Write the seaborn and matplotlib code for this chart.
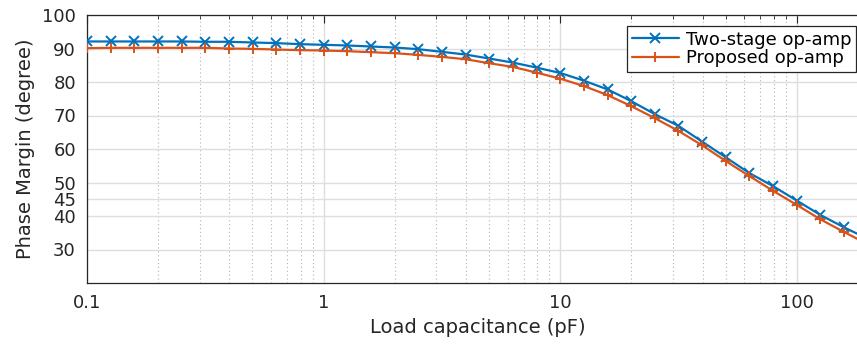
import numpy as np
import pandas as pd
import matplotlib
matplotlib.use("Agg")
import matplotlib.pyplot as plt
import seaborn as sns
from matplotlib.ticker import LogLocator, NullFormatter, FixedLocator
from matplotlib.lines import Line2D

# Load capacitance points (pF), 10 per decade
cap = [0.1, 0.1259, 0.1585, 0.1995, 0.2512, 0.3162, 0.3981, 0.5012, 0.631, 0.7943,
       1.0, 1.259, 1.585, 1.995, 2.512, 3.162, 3.981, 5.012, 6.31, 7.943,
       10.0, 12.59, 15.85, 19.95, 25.12, 31.62, 39.81, 50.12, 63.1, 79.43,
       100.0, 125.9, 158.5, 199.5]

two_stage = [92.1, 92.1, 92.1, 92.1, 92.1, 92.0, 92.0, 91.8, 91.6, 91.3,
             91.1, 90.9, 90.6, 90.3, 89.8, 89.0, 88.2, 87.0, 85.8, 84.3,
             82.7, 80.4, 77.8, 74.3, 70.4, 66.9, 62.2, 57.5, 52.8, 48.9,
             44.6, 40.3, 36.6, 33.2]

proposed = [90.1, 90.2, 90.2, 90.2, 90.2, 90.2, 90.0, 89.9, 89.7, 89.5,
            89.4, 89.2, 88.9, 88.6, 88.1, 87.5, 86.8, 85.6, 84.5, 82.8,
            81.0, 78.8, 76.1, 72.8, 69.2, 65.4, 61.1, 56.4, 51.9, 47.5,
            43.3, 39.0, 35.2, 31.6]

series_names = ["Two-stage op-amp", "Proposed op-amp"]
y_ticks = [30, 40, 45, 50, 60, 70, 80, 90, 100]
x_ticks = [0.1, 1, 10, 100]
x_tick_labels = ["0.1", "1", "10", "100"]

sns.set_style("white")
plt.rcParams["font.family"] = ["DejaVu Sans"]
txt = "#262626"
colors = ["#0072BD", "#D95319"]
markers = ["x", "+"]

fig = plt.figure(figsize=(8.57, 3.47), dpi=100)
ax = fig.add_axes([87 / 857, 1 - 283 / 347, (868 - 87) / 857, (283 - 15) / 347])

for name, vals, col, mk in zip(series_names, [two_stage, proposed], colors, markers):
    d = pd.DataFrame({"C": cap, "PM": vals})
    sns.lineplot(data=d, x="C", y="PM", color=col, marker=mk,
                 markersize=6.5, markeredgewidth=1.4, markeredgecolor=col,
                 linewidth=1.6, ax=ax, legend=False, zorder=3)

ax.set_xscale("log")
ax.set_xlim(0.1, 200)
ax.set_ylim(20, 100)
ax.xaxis.set_major_locator(FixedLocator(x_ticks))
ax.set_xticklabels(x_tick_labels)
ax.xaxis.set_minor_locator(LogLocator(base=10, subs=np.arange(2, 10)))
ax.xaxis.set_minor_formatter(NullFormatter())
ax.set_yticks(y_ticks)
ax.set_yticklabels([str(v) for v in y_ticks])

ax.grid(True, which="major", axis="both", color="#dedede", linewidth=1.0, linestyle="-", zorder=0)
ax.grid(True, which="minor", axis="x", color="#b5b5b5", linewidth=0.8, linestyle=(0, (1, 2.5)), zorder=0)
ax.set_axisbelow(True)

for s in ["left", "bottom", "top", "right"]:
    ax.spines[s].set_color(txt)
    ax.spines[s].set_linewidth(0.9)

ax.tick_params(axis="both", which="major", direction="in", length=6, width=0.8,
               colors=txt, labelsize=13, top=True, right=True, pad=8)
ax.tick_params(axis="x", which="minor", direction="in", length=3, width=0.6,
               colors=txt, top=True)
ax.tick_params(axis="y", which="minor", left=False, right=False)

ax.set_xlabel("Load capacitance (pF)", fontsize=14, color=txt, labelpad=4)
ax.set_ylabel("Phase Margin (degree)", fontsize=14, color=txt, labelpad=5)

handles = [
    Line2D([], [], color=c, marker=m, markersize=6.5, markeredgewidth=1.4, linewidth=1.6)
    for c, m in zip(colors, markers)
]
leg = fig.legend(handles, series_names, loc="upper right",
                 bbox_to_anchor=(856 / 857, 1 - 26 / 347),
                 fontsize=13, frameon=True, fancybox=False, framealpha=1,
                 edgecolor=txt, borderpad=0.25, handlelength=2.6,
                 handletextpad=0.4, labelspacing=0.05, borderaxespad=0)
leg.get_frame().set_linewidth(0.9)
for t in leg.get_texts():
    t.set_color("#000000")

fig.savefig("out.png", dpi=100)
